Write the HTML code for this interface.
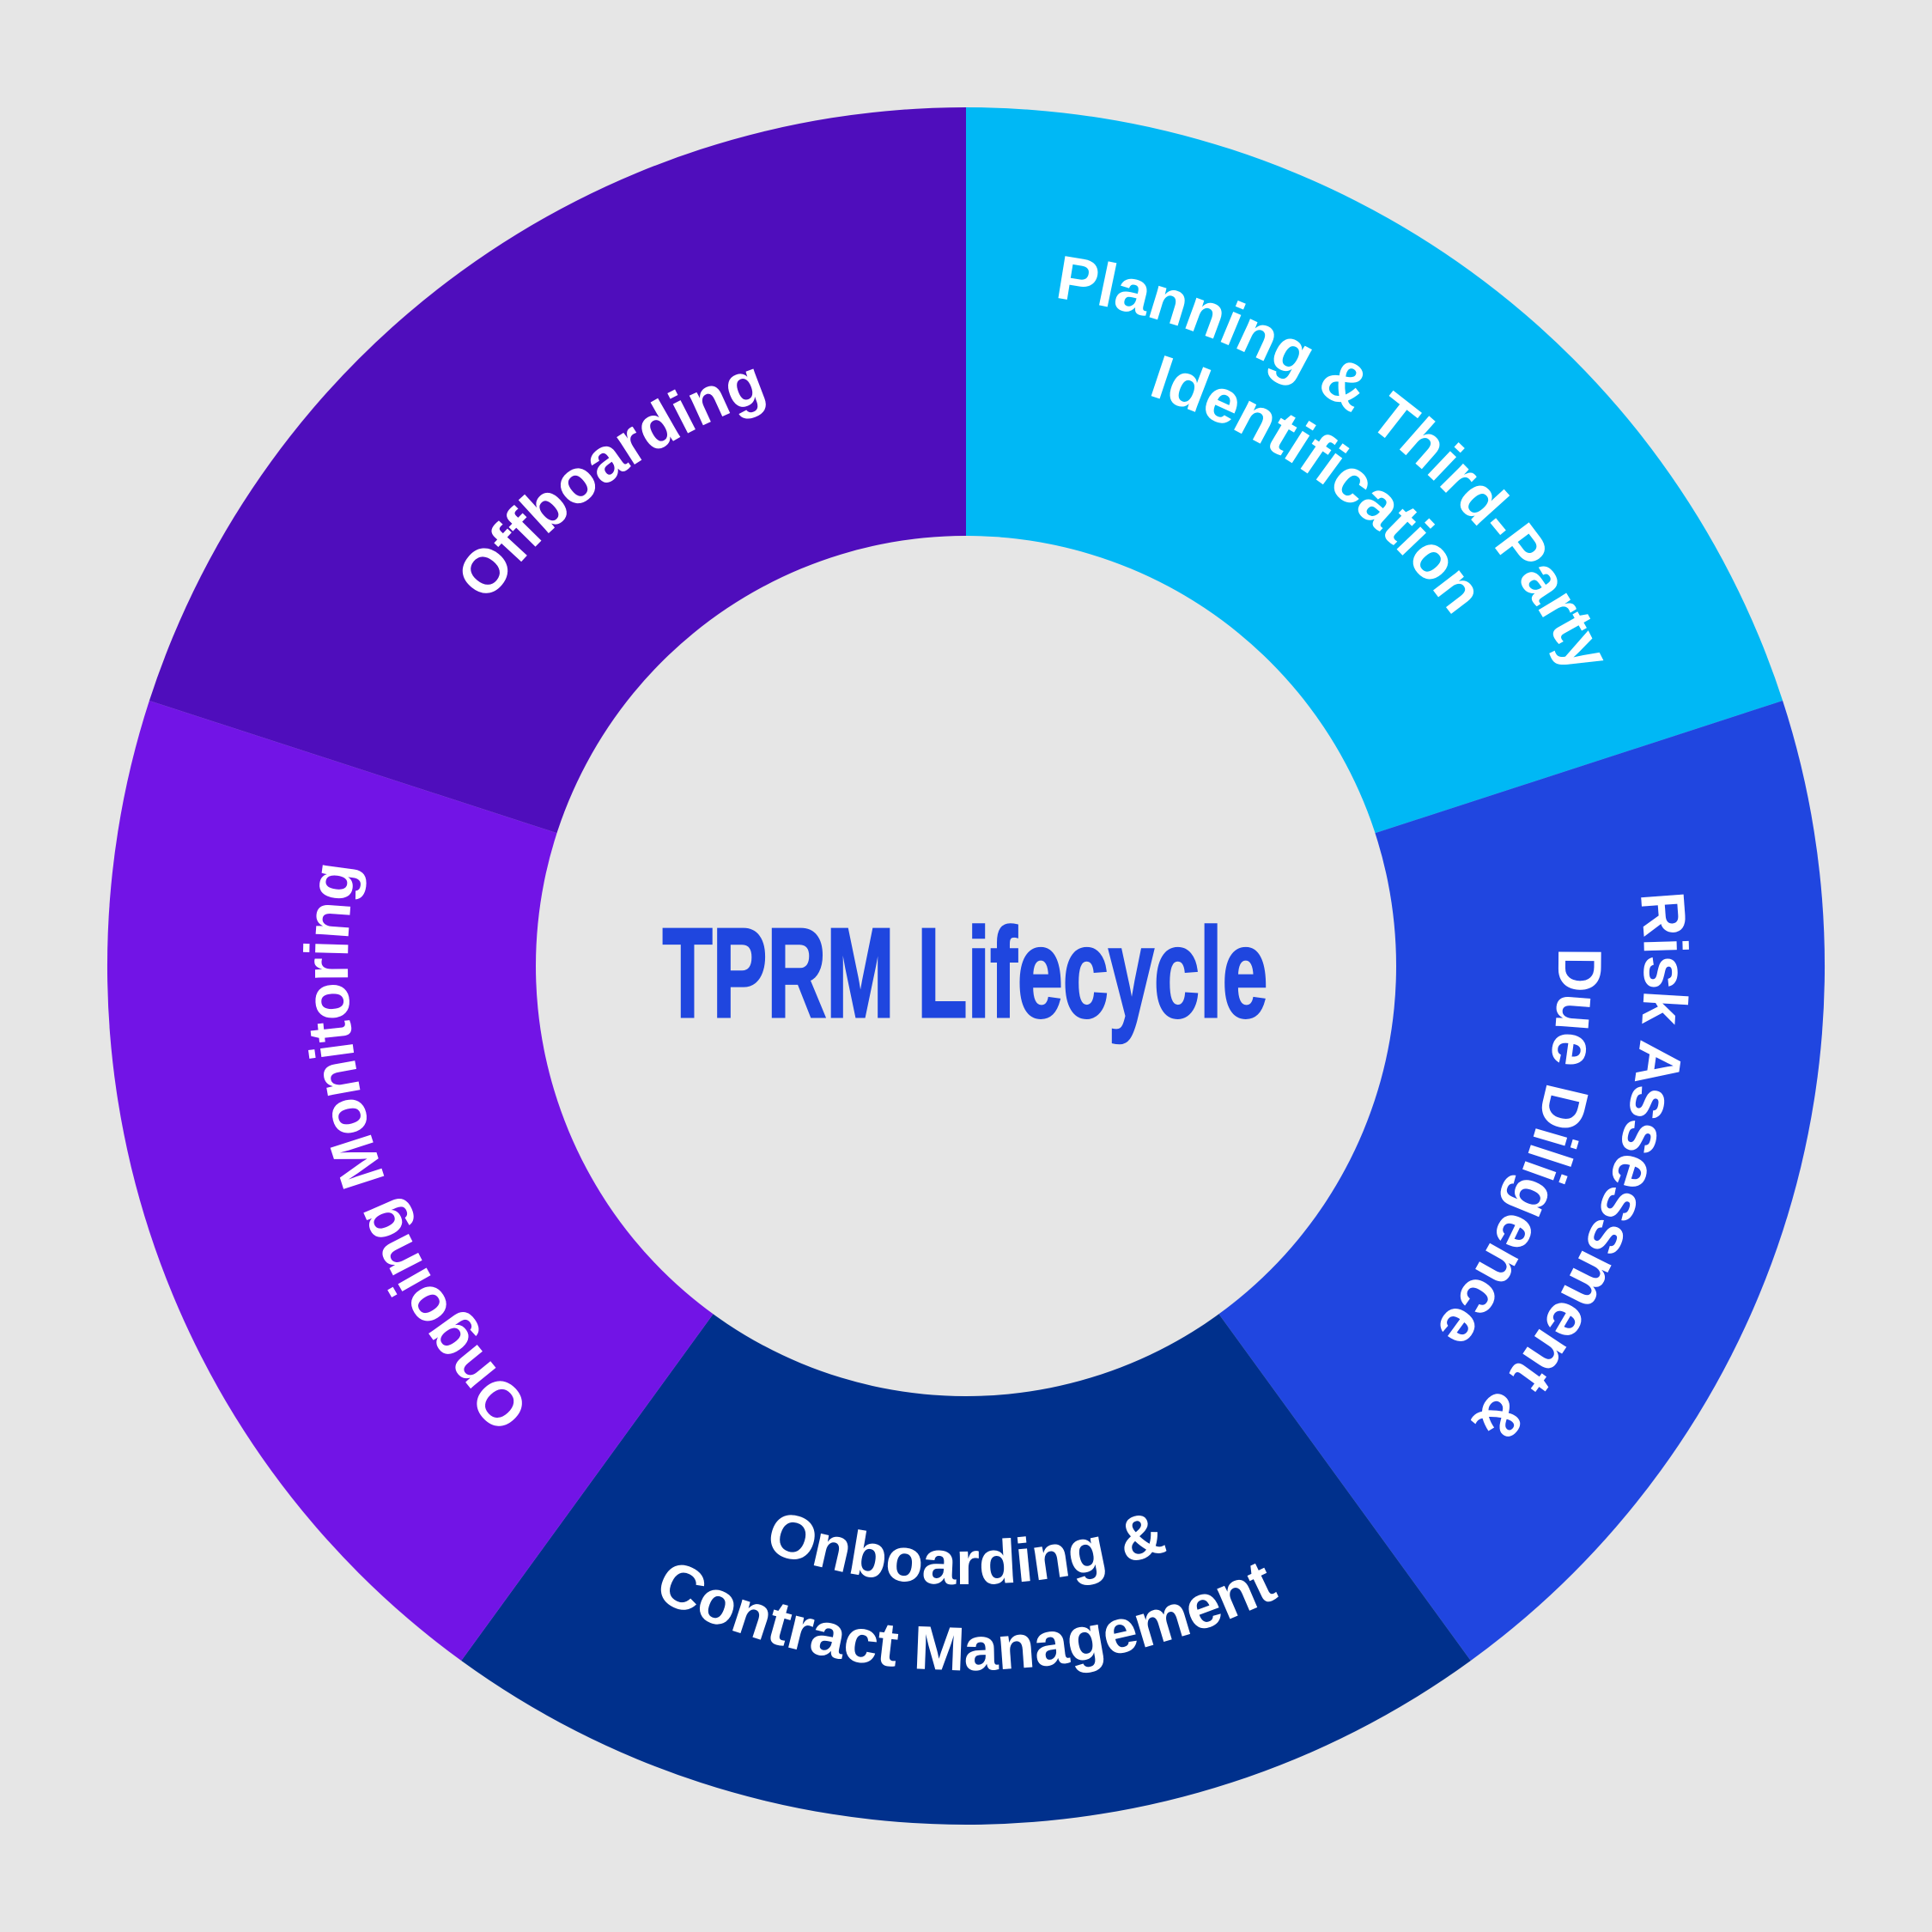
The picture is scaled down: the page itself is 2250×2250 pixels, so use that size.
<!DOCTYPE html>
<html><head><meta charset="utf-8"><style>
html,body{margin:0;padding:0;background:#E6E6E6;}
svg{display:block;}
.t{font-family:"Liberation Sans",sans-serif;font-weight:bold;font-size:72px;fill:#fff;}
</style></head><body>
<svg width="2250" height="2250" viewBox="0 0 2250 2250" xmlns="http://www.w3.org/2000/svg">
<rect width="2250" height="2250" fill="#E6E6E6"/>
<path d="M1125 1125 L1125 125 A1000 1000 0 0 1 2076.1 815.98 Z" fill="#00B8F5"/>
<path d="M1125 1125 L2076.1 815.98 A1000 1000 0 0 1 1712.8 1934.0 Z" fill="#2046E0"/>
<path d="M1125 1125 L1712.8 1934.0 A1000 1000 0 0 1 537.2 1934.0 Z" fill="#00308C"/>
<path d="M1125 1125 L537.2 1934.0 A1000 1000 0 0 1 173.9 815.98 Z" fill="#7214E6"/>
<path d="M1125 1125 L173.9 815.98 A1000 1000 0 0 1 1125 125 Z" fill="#4F0DBC"/>
<circle cx="1125" cy="1125" r="501" fill="#E6E6E6"/>
<defs>
<path id="cw785" d="M1125 340 A785 785 0 1 1 1125 1910 A785 785 0 1 1 1125 340"/>
<path id="cw698" d="M1125 427 A698 698 0 1 1 1125 1823 A698 698 0 1 1 1125 427"/>
<path id="cw700" d="M1125 425 A700 700 0 1 1 1125 1825 A700 700 0 1 1 1125 425"/>
<path id="cw720" d="M1125 405 A720 720 0 1 1 1125 1845 A720 720 0 1 1 1125 405"/>
<path id="cw790" d="M1125 335 A790 790 0 1 1 1125 1915 A790 790 0 1 1 1125 335"/>
<path id="cw690" d="M1125 435 A690 690 0 1 1 1125 1815 A690 690 0 1 1 1125 435"/>
<path id="ccw720" d="M1125 405 A720 720 0 1 0 1125 1845 A720 720 0 1 0 1125 405"/>
<path id="ccw820" d="M1125 305 A820 820 0 1 0 1125 1945 A820 820 0 1 0 1125 305"/>
</defs>
<text class="t" text-anchor="middle"><textPath href="#cw785" startOffset="10%">Planning &amp; Third-Party</textPath></text>
<text class="t" text-anchor="middle"><textPath href="#cw698" startOffset="10%">Identification</textPath></text>
<text class="t" text-anchor="middle"><textPath href="#cw790" startOffset="30%">Risk Assessment &amp;</textPath></text>
<text class="t" text-anchor="middle"><textPath href="#cw690" startOffset="30%">Due Diligence</textPath></text>
<text class="t" text-anchor="middle"><textPath href="#ccw720" startOffset="50%">Onboarding &amp;</textPath></text>
<text class="t" text-anchor="middle"><textPath href="#ccw820" startOffset="50%">Contract Management</textPath></text>
<text class="t" text-anchor="middle"><textPath href="#cw720" startOffset="70%">Ongoing Monitoring</textPath></text>
<text class="t" text-anchor="middle"><textPath href="#cw700" startOffset="90%">Offboarding</textPath></text>
<text x="1124" y="1184" text-anchor="middle" textLength="705" lengthAdjust="spacingAndGlyphs" font-family="Liberation Sans, sans-serif" font-weight="bold" font-size="148" fill="#1F46DF" stroke="#1F46DF" stroke-width="3">TPRM Lifecycle</text>
</svg>
</body></html>
